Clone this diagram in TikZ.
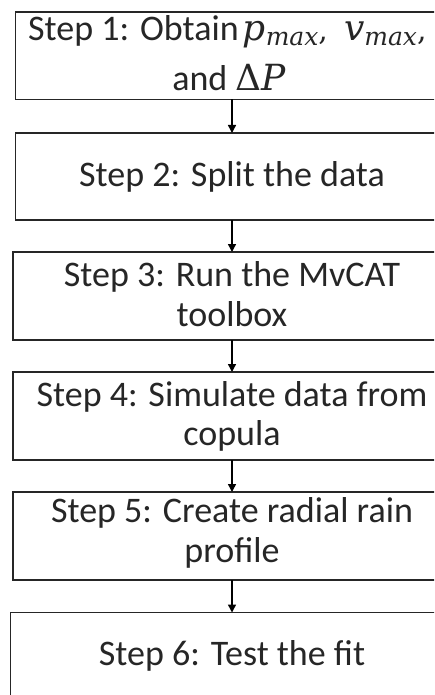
\documentclass[tikz,border=0pt]{standalone}
\usepackage{fontspec}
\setmainfont{Carlito}
\newfontfamily\mfont{DejaVu Serif}
\newcommand{\mvar}[1]{{\mfont\itshape #1}}
\newcommand{\msub}[2]{{\mfont\itshape #1\raisebox{-5pt}{\fontsize{25}{25}\selectfont #2}}}
\usetikzlibrary{arrows.meta}
\begin{document}
\begin{tikzpicture}[x=1pt,y=-1pt,
  stepbox/.style={draw=black!85,line width=1.3pt},
  steptext/.style={font=\fontsize{36}{40}\selectfont,align=center,inner sep=0pt,text=black!85},
  link/.style={line width=1.4pt,-{Triangle[length=8pt,width=8pt]}}]
\useasboundingbox (0,0) rectangle (434,695);
\clip (0,0) rectangle (434,695);
% boxes
\draw[stepbox] (15.5,12) rectangle (448.5,99.5);
\draw[stepbox] (15.5,133) rectangle (448.5,220);
\draw[stepbox] (13,252) rectangle (451,340);
\draw[stepbox] (13,372) rectangle (451,460);
\draw[stepbox] (13,492) rectangle (451,580);
\draw[stepbox] (10.7,612.5) rectangle (453,700);
% anchors for connectors
\coordinate (b1) at (232,99.5);
\coordinate (t2) at (232,133);
\coordinate (b2) at (232,220);
\coordinate (t3) at (232,252);
\coordinate (b3) at (232,340);
\coordinate (t4) at (232,372);
\coordinate (b4) at (232,460);
\coordinate (t5) at (232,492);
\coordinate (b5) at (232,580);
\coordinate (t6) at (232,612.5);
% texts
\node[steptext,anchor=base west] (s1a) at (28,40.7) {Step 1: Obtain\hspace{4pt}\msub{p}{max}{\mfont\fontsize{30}{30}\selectfont,}\hspace{16pt}\msub{v}{max}{\mfont\fontsize{30}{30}\selectfont,}};
\node[steptext,anchor=base] (s1b) at (229,90.7) {and {\mfont Δ}\mvar{P}};
\node[steptext,anchor=base] (s2) at (232,186.7) {Step 2: Split the data};
\node[steptext,anchor=base] (s3a) at (232,286.7) {Step 3: Run the MvCAT};
\node[steptext,anchor=base] (s3b) at (232,326.7) {toolbox};
\node[steptext,anchor=base] (s4a) at (232,406) {Step 4: Simulate data from};
\node[steptext,anchor=base] (s4b) at (232,445.5) {copula};
\node[steptext,anchor=base] (s5a) at (232,522.7) {Step 5: Create radial rain};
\node[steptext,anchor=base] (s5b) at (232,562) {profile};
\node[steptext,anchor=base] (s6) at (232,665.5) {Step 6: Test the fit};
% connectors
\draw[link] (b1) -- (t2);
\draw[link] (b2) -- (t3);
\draw[link] (b3) -- (t4);
\draw[link] (b4) -- (t5);
\draw[link] (b5) -- (t6);
\end{tikzpicture}
\end{document}
